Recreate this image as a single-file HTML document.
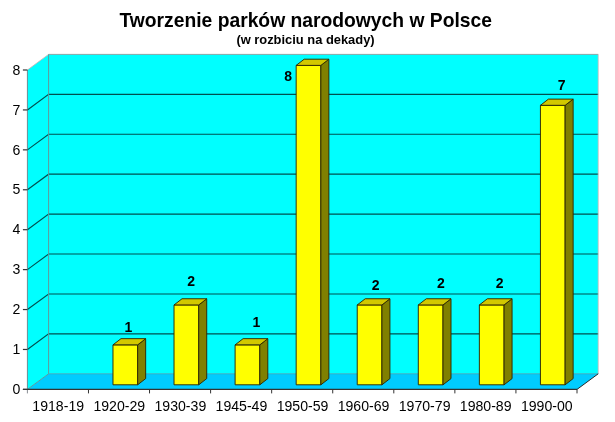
<!DOCTYPE html>
<html lang="pl"><head><meta charset="utf-8"><title>Tworzenie parków narodowych w Polsce</title>
<style>
html,body{margin:0;padding:0;background:#fff}
body{width:615px;height:422px;overflow:hidden}
svg{display:block}
svg text{font-family:"Liberation Sans",sans-serif;fill:#000}
.ax{font-size:14.1px}
.lb{font-size:14px;font-weight:bold}
.t1{font-size:19.3px;font-weight:bold}
.t2{font-size:12.9px;font-weight:bold}
</style></head><body>
<svg width="615" height="422" viewBox="0 0 615 422">
<rect width="615" height="422" fill="#fff"/>
<rect x="48.6" y="54.4" width="549.6" height="319.4" fill="#00ffff"/>
<polygon points="27.4,70 48.6,54.4 48.6,373.8 27.4,389.4" fill="#00ffff"/>
<polygon points="27.4,389.4 48.6,373.8 598.2,373.8 577,389.4" fill="#00ccff"/>
<g fill="none" stroke="#005050" stroke-width="1.15">
<polyline points="27.4,349.47 48.6,333.87 598.2,333.87"/>
<polyline points="27.4,309.55 48.6,293.95 598.2,293.95"/>
<polyline points="27.4,269.62 48.6,254.03 598.2,254.03"/>
<polyline points="27.4,229.7 48.6,214.1 598.2,214.1"/>
<polyline points="27.4,189.77 48.6,174.17 598.2,174.17"/>
<polyline points="27.4,149.85 48.6,134.25 598.2,134.25"/>
<polyline points="27.4,109.93 48.6,94.33 598.2,94.33"/>
</g>
<g fill="none" stroke="#808080" stroke-width="1">
<polyline points="27.4,70 48.6,54.4" stroke="#c8b0b0" stroke-width="0.8"/>
<polyline points="48.6,54.4 598.2,54.4" stroke="#8c9c9c" stroke-width="0.9"/>
<polyline points="598.2,54.4 598.2,373.8" stroke="#d0b8b8" stroke-width="0.8"/>
<polyline points="48.6,54.4 48.6,373.8" stroke="#5a9a9a"/>
<polyline points="48.6,373.8 598.2,373.8" stroke="#40a0b0" stroke-width="0.8"/>
<line x1="27.4" y1="389.4" x2="48.6" y2="373.8" stroke="#5a9aa0"/>
<line x1="577" y1="389.4" x2="598.2" y2="373.8" stroke="#2a2a2a" stroke-width="1"/>
</g>
<g stroke="#333" stroke-width="1.2">
<line x1="27.4" y1="70" x2="27.4" y2="393.4" stroke="#6a7078" stroke-width="0.8"/>
<line x1="22.9" y1="389.4" x2="577" y2="389.4"/>
<line x1="22.9" y1="389.4" x2="27.4" y2="389.4"/>
<line x1="22.9" y1="349.47" x2="27.4" y2="349.47"/>
<line x1="22.9" y1="309.55" x2="27.4" y2="309.55"/>
<line x1="22.9" y1="269.62" x2="27.4" y2="269.62"/>
<line x1="22.9" y1="229.7" x2="27.4" y2="229.7"/>
<line x1="22.9" y1="189.77" x2="27.4" y2="189.77"/>
<line x1="22.9" y1="149.85" x2="27.4" y2="149.85"/>
<line x1="22.9" y1="109.93" x2="27.4" y2="109.93"/>
<line x1="22.9" y1="70" x2="27.4" y2="70"/>
<line x1="88.47" y1="389.4" x2="88.47" y2="393.4" stroke-width="1"/>
<line x1="149.53" y1="389.4" x2="149.53" y2="393.4" stroke-width="1"/>
<line x1="210.6" y1="389.4" x2="210.6" y2="393.4" stroke-width="1"/>
<line x1="271.67" y1="389.4" x2="271.67" y2="393.4" stroke-width="1"/>
<line x1="332.73" y1="389.4" x2="332.73" y2="393.4" stroke-width="1"/>
<line x1="393.8" y1="389.4" x2="393.8" y2="393.4" stroke-width="1"/>
<line x1="454.87" y1="389.4" x2="454.87" y2="393.4" stroke-width="1"/>
<line x1="515.93" y1="389.4" x2="515.93" y2="393.4" stroke-width="1"/>
<line x1="577" y1="389.4" x2="577" y2="393.4" stroke-width="1"/>
</g>
<g class="ax" text-anchor="middle">
<text x="16.5" y="394.1">0</text>
<text x="16.5" y="354.17">1</text>
<text x="16.5" y="314.25">2</text>
<text x="16.5" y="274.32">3</text>
<text x="16.5" y="234.4">4</text>
<text x="16.5" y="194.47">5</text>
<text x="16.5" y="154.55">6</text>
<text x="16.5" y="114.63">7</text>
<text x="16.5" y="74.7">8</text>
<text x="58.23" y="411">1918-19</text>
<text x="119.3" y="411">1920-29</text>
<text x="180.37" y="411">1930-39</text>
<text x="241.43" y="411">1945-49</text>
<text x="302.5" y="411">1950-59</text>
<text x="363.57" y="411">1960-69</text>
<text x="424.63" y="411">1970-79</text>
<text x="485.7" y="411">1980-89</text>
<text x="546.77" y="411">1990-00</text>
</g>
<g stroke="#302800" stroke-width="0.95" stroke-linejoin="round">
<rect x="112.97" y="344.87" width="24.7" height="39.93" fill="#ffff00"/>
<polygon points="137.67,344.87 145.67,338.67 145.67,378.6 137.67,384.8" fill="#808000"/>
<polygon points="112.97,344.87 120.97,338.67 145.67,338.67 137.67,344.87" fill="#d2c800"/>
</g>
<g stroke="#302800" stroke-width="0.95" stroke-linejoin="round">
<rect x="174.03" y="304.95" width="24.7" height="79.85" fill="#ffff00"/>
<polygon points="198.73,304.95 206.73,298.75 206.73,378.6 198.73,384.8" fill="#808000"/>
<polygon points="174.03,304.95 182.03,298.75 206.73,298.75 198.73,304.95" fill="#d2c800"/>
</g>
<g stroke="#302800" stroke-width="0.95" stroke-linejoin="round">
<rect x="235.1" y="344.87" width="24.7" height="39.93" fill="#ffff00"/>
<polygon points="259.8,344.87 267.8,338.67 267.8,378.6 259.8,384.8" fill="#808000"/>
<polygon points="235.1,344.87 243.1,338.67 267.8,338.67 259.8,344.87" fill="#d2c800"/>
</g>
<g stroke="#302800" stroke-width="0.95" stroke-linejoin="round">
<rect x="296.17" y="65.4" width="24.7" height="319.4" fill="#ffff00"/>
<polygon points="320.87,65.4 328.87,59.2 328.87,378.6 320.87,384.8" fill="#808000"/>
<polygon points="296.17,65.4 304.17,59.2 328.87,59.2 320.87,65.4" fill="#d2c800"/>
</g>
<g stroke="#302800" stroke-width="0.95" stroke-linejoin="round">
<rect x="357.23" y="304.95" width="24.7" height="79.85" fill="#ffff00"/>
<polygon points="381.93,304.95 389.93,298.75 389.93,378.6 381.93,384.8" fill="#808000"/>
<polygon points="357.23,304.95 365.23,298.75 389.93,298.75 381.93,304.95" fill="#d2c800"/>
</g>
<g stroke="#302800" stroke-width="0.95" stroke-linejoin="round">
<rect x="418.3" y="304.95" width="24.7" height="79.85" fill="#ffff00"/>
<polygon points="443,304.95 451,298.75 451,378.6 443,384.8" fill="#808000"/>
<polygon points="418.3,304.95 426.3,298.75 451,298.75 443,304.95" fill="#d2c800"/>
</g>
<g stroke="#302800" stroke-width="0.95" stroke-linejoin="round">
<rect x="479.37" y="304.95" width="24.7" height="79.85" fill="#ffff00"/>
<polygon points="504.07,304.95 512.07,298.75 512.07,378.6 504.07,384.8" fill="#808000"/>
<polygon points="479.37,304.95 487.37,298.75 512.07,298.75 504.07,304.95" fill="#d2c800"/>
</g>
<g stroke="#302800" stroke-width="0.95" stroke-linejoin="round">
<rect x="540.43" y="105.32" width="24.7" height="279.47" fill="#ffff00"/>
<polygon points="565.13,105.32 573.13,99.12 573.13,378.6 565.13,384.8" fill="#808000"/>
<polygon points="540.43,105.32 548.43,99.12 573.13,99.12 565.13,105.32" fill="#d2c800"/>
</g>
<g class="lb" text-anchor="middle">
<text x="128.3" y="331.5">1</text>
<text x="191.2" y="285.8">2</text>
<text x="256.4" y="327.4">1</text>
<text x="288.2" y="80.9">8</text>
<text x="375.7" y="289.5">2</text>
<text x="441" y="287.9">2</text>
<text x="499.7" y="287.7">2</text>
<text x="561.6" y="90.1">7</text>
</g>
<text x="305.7" y="26.6" text-anchor="middle" class="t1">Tworzenie parków narodowych w Polsce</text>
<text x="305.5" y="44.2" text-anchor="middle" class="t2">(w rozbiciu na dekady)</text>
</svg>
</body></html>
